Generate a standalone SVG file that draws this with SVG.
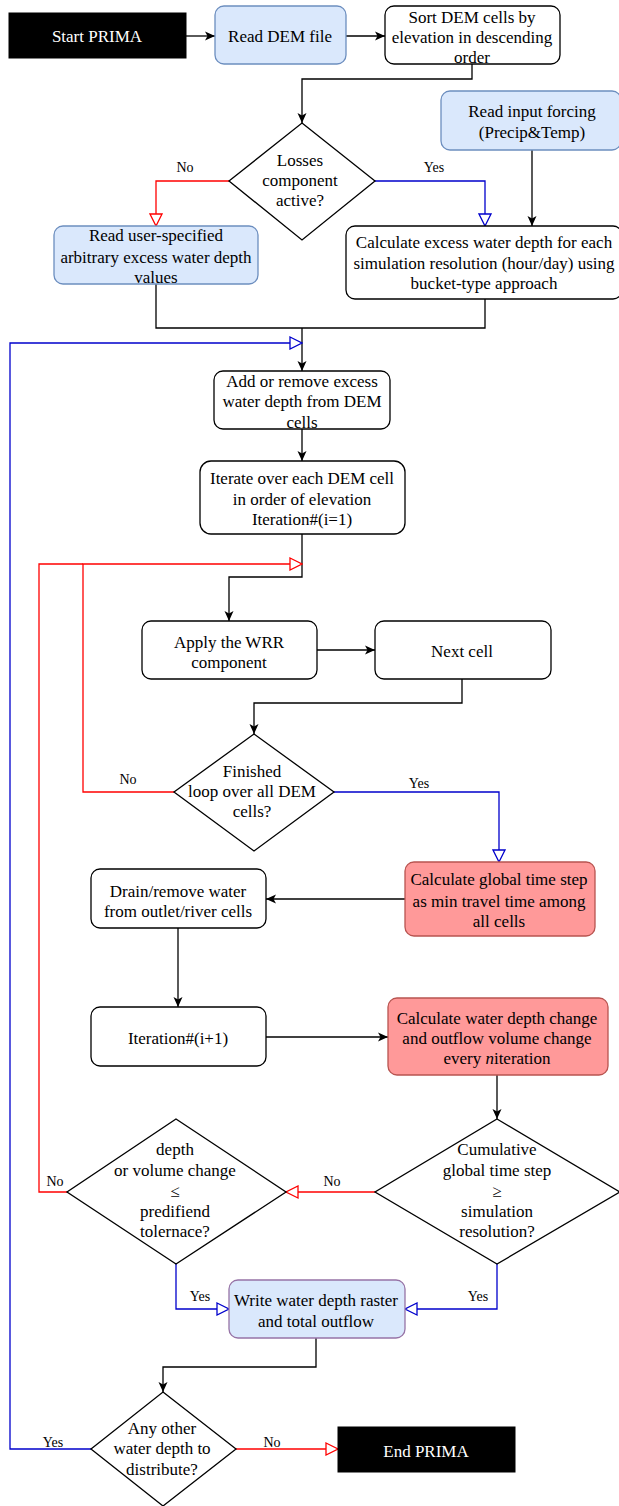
<svg xmlns="http://www.w3.org/2000/svg" width="619" height="1506" viewBox="0 0 619 1506">
<style>
text{font-family:"Liberation Serif","Times New Roman",serif;font-size:17px;fill:#000;text-anchor:middle}
.lbl{font-size:14px}
.w{fill:#fff}
.box{fill:#fff;stroke:#000;stroke-width:1.3}
.blue{fill:#dae8fc;stroke:#6c8ebf;stroke-width:1.3}
.red{fill:#ff9999;stroke:#b85450;stroke-width:1.3}
.purple{fill:#dae8fc;stroke:#9673a6;stroke-width:1.3}
.term{fill:#000;stroke:#000}
.k{fill:none;stroke:#000;stroke-width:1.3}
.cr{fill:none;stroke:#ff0000;stroke-width:1.3}
.cb{fill:none;stroke:#0000cc;stroke-width:1.3}
</style>
<defs>
<marker id="ak" viewBox="0 0 10 10" refX="10" refY="5" markerWidth="10" markerHeight="11" markerUnits="userSpaceOnUse" orient="auto"><path d="M0,0.5 L10,5 L0,9.5 L2.5,5 z" fill="#000"/></marker>
<marker id="ar" viewBox="0 0 14 14" refX="13" refY="7" markerWidth="14" markerHeight="14" markerUnits="userSpaceOnUse" orient="auto"><path d="M1,1 L13,7 L1,13 z" fill="#fff" stroke="#ff0000" stroke-width="1.3"/></marker>
<marker id="ab" viewBox="0 0 14 14" refX="13" refY="7" markerWidth="14" markerHeight="14" markerUnits="userSpaceOnUse" orient="auto"><path d="M1,1 L13,7 L1,13 z" fill="#fff" stroke="#0000cc" stroke-width="1.3"/></marker>
</defs>
<rect width="619" height="1506" fill="#fff"/>
<g id="connectors">
<path class="k" d="M186,36 H215" marker-end="url(#ak)"/>
<path class="k" d="M346,36 H385" marker-end="url(#ak)"/>
<path class="k" d="M472,64 V79 H302 V123" marker-end="url(#ak)"/>
<path class="k" d="M532,150 V226" marker-end="url(#ak)"/>
<path class="cb" d="M375,181 H485 V226" marker-end="url(#ab)"/>
<path class="cr" d="M229,181 H156 V226" marker-end="url(#ar)"/>
<path class="k" d="M156,284 V328 H485 V299"/>
<path class="k" d="M302,328 V371" marker-end="url(#ak)"/>
<path class="cb" d="M91,1449 H10 V343 H302" marker-end="url(#ab)"/>
<path class="k" d="M302,429 V461" marker-end="url(#ak)"/>
<path class="k" d="M302,534 V577 H229 V621" marker-end="url(#ak)"/>
<path class="cr" d="M67,1192 H39 V564 H83"/>
<path class="cr" d="M174,792 H83 V564 H302" marker-end="url(#ar)"/>
<path class="k" d="M317,650 H375" marker-end="url(#ak)"/>
<path class="k" d="M462,679 V703 H254 V734" marker-end="url(#ak)"/>
<path class="cb" d="M334,792 H499 V862" marker-end="url(#ab)"/>
<path class="k" d="M405,899 H266" marker-end="url(#ak)"/>
<path class="k" d="M178,928 V1007" marker-end="url(#ak)"/>
<path class="k" d="M266,1037 H388" marker-end="url(#ak)"/>
<path class="k" d="M497,1075 V1119" marker-end="url(#ak)"/>
<path class="cr" d="M375,1192 H286" marker-end="url(#ar)"/>
<path class="cb" d="M176,1264 V1309 H229" marker-end="url(#ab)"/>
<path class="cb" d="M497,1264 V1309 H405" marker-end="url(#ab)"/>
<path class="k" d="M316,1338 V1367 H163 V1392" marker-end="url(#ak)"/>
<path class="cr" d="M236,1449 H338" marker-end="url(#ar)"/>
<text class="lbl" x="185" y="172">No</text>
<text class="lbl" x="434" y="172">Yes</text>
<text class="lbl" x="128" y="784">No</text>
<text class="lbl" x="419" y="788">Yes</text>
<text class="lbl" x="332" y="1186">No</text>
<text class="lbl" x="55" y="1186">No</text>
<text class="lbl" x="200" y="1301">Yes</text>
<text class="lbl" x="478" y="1301">Yes</text>
<text class="lbl" x="272" y="1447">No</text>
<text class="lbl" x="53" y="1447">Yes</text>
</g>
<g id="start"><rect class="term" x="9" y="13" width="177" height="45"/><text class="w" x="97" y="42">Start PRIMA</text></g>
<g id="readdem"><rect class="blue" x="215" y="6" width="131" height="58" rx="9"/><text x="280" y="42">Read DEM file</text></g>
<g id="sort"><rect class="box" x="385" y="6" width="175" height="58" rx="9"/><text x="472" y="23">Sort DEM cells by</text><text x="472" y="43">elevation in descending</text><text x="472" y="63">order</text></g>
<g id="losses"><polygon class="box" points="302,123 375,181 302,240 229,181"/><text x="300" y="166">Losses</text><text x="300" y="186">component</text><text x="300" y="206">active?</text></g>
<g id="input"><rect class="blue" x="441" y="91" width="180" height="59" rx="9"/><text x="532" y="117">Read input forcing</text><text x="532" y="138">(Precip&amp;Temp)</text></g>
<g id="calcexcess"><rect class="box" x="346" y="226" width="276" height="73" rx="9"/><text x="484" y="248">Calculate excess water depth for each</text><text x="484" y="269">simulation resolution (hour/day) using</text><text x="484" y="289">bucket-type approach</text></g>
<g id="readuser"><rect class="blue" x="54" y="226" width="204" height="58" rx="9"/><text x="156" y="241">Read user-specified</text><text x="156" y="263">arbitrary excess water depth</text><text x="156" y="283">values</text></g>
<g id="addremove"><rect class="box" x="214" y="371" width="176" height="58" rx="9"/><text x="302" y="387">Add or remove excess</text><text x="302" y="407">water depth from DEM</text><text x="302" y="428">cells</text></g>
<g id="iterate"><rect class="box" x="200" y="461" width="205" height="73" rx="11"/><text x="302" y="484">Iterate over each DEM cell</text><text x="302" y="505">in order of elevation</text><text x="302" y="525">Iteration#(i=1)</text></g>
<g id="apply"><rect class="box" x="142" y="621" width="175" height="58" rx="9"/><text x="229" y="648">Apply the WRR</text><text x="229" y="668">component</text></g>
<g id="next"><rect class="box" x="375" y="621" width="176" height="58" rx="9"/><text x="462" y="657">Next cell</text></g>
<g id="finished"><polygon class="box" points="254,734 334,792 254,851 174,792"/><text x="252" y="777">Finished</text><text x="252" y="797">loop over all DEM</text><text x="252" y="817">cells?</text></g>
<g id="calcglobal"><rect class="red" x="405" y="862" width="190" height="74" rx="9"/><text x="499" y="885">Calculate global time step</text><text x="499" y="907">as min travel time among</text><text x="499" y="927">all cells</text></g>
<g id="drain"><rect class="box" x="91" y="869" width="175" height="59" rx="9"/><text x="178" y="897">Drain/remove water</text><text x="178" y="917">from outlet/river cells</text></g>
<g id="iteration"><rect class="box" x="91" y="1007" width="175" height="59" rx="9"/><text x="178" y="1044">Iteration#(i+1)</text></g>
<g id="calcwater"><rect class="red" x="388" y="998" width="220" height="77" rx="9"/><text x="497" y="1024">Calculate water depth change</text><text x="497" y="1044">and outflow volume change</text><text x="497" y="1064">every <tspan font-style="italic">n</tspan>iteration</text></g>
<g id="cumulative"><polygon class="box" points="497,1119 620,1192 497,1264 375,1192"/><text x="497" y="1155">Cumulative</text><text x="497" y="1176">global time step</text><text x="497" y="1197">≥</text><text x="497" y="1217">simulation</text><text x="497" y="1237">resolution?</text></g>
<g id="depth"><polygon class="box" points="176,1119 286,1192 176,1264 67,1192"/><text x="175" y="1155">depth</text><text x="175" y="1176">or volume change</text><text x="175" y="1197">≤</text><text x="175" y="1217">predifiend</text><text x="175" y="1237">tolernace?</text></g>
<g id="write"><rect class="purple" x="229" y="1280" width="176" height="58" rx="9"/><text x="316" y="1306">Write water depth raster</text><text x="316" y="1327">and total outflow</text></g>
<g id="anyother"><polygon class="box" points="163,1392 236,1449 163,1506 91,1449"/><text x="162" y="1434">Any other</text><text x="162" y="1454">water depth to</text><text x="162" y="1475">distribute?</text></g>
<g id="end"><rect class="term" x="338" y="1427" width="177" height="45"/><text class="w" x="426" y="1457">End PRIMA</text></g>
</svg>
